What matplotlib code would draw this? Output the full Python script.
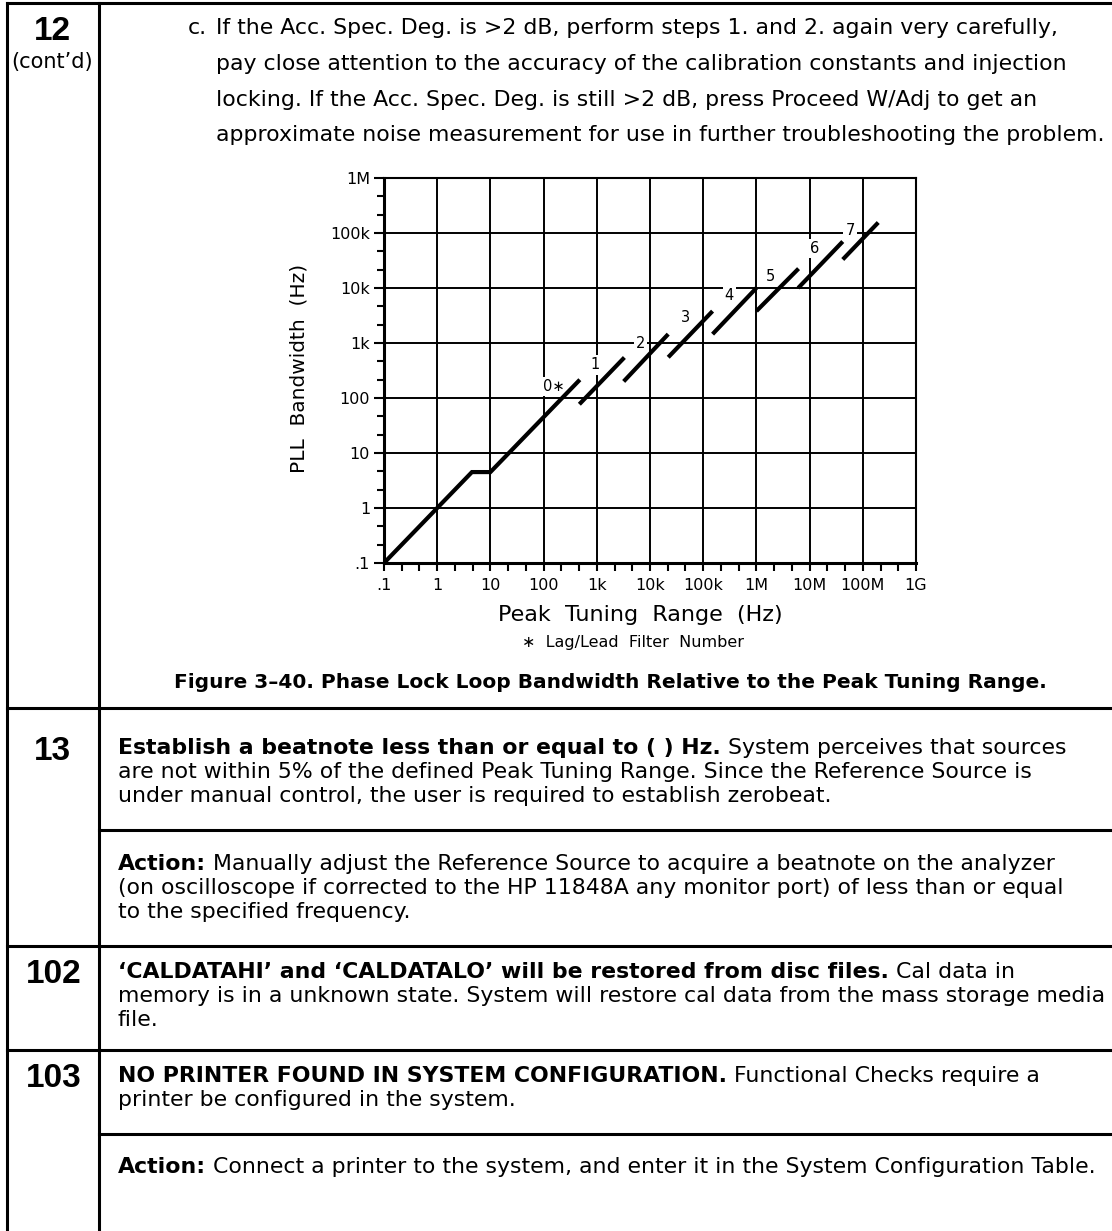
import matplotlib
matplotlib.use("Agg")
import matplotlib.pyplot as plt
from matplotlib.lines import Line2D
from matplotlib.ticker import FixedLocator, FixedFormatter, NullFormatter

W, H, DPI = 1112, 1231, 100

# ---------------- chart data ----------------
filter0_x = [0.1, 4.5, 10, 480]
filter0_y = [0.1, 4.5, 4.5, 215]
filter1_x = [470, 3300]
filter1_y = [77, 545]
filter2_x = [3200, 22000]
filter2_y = [200, 1450]
filter3_x = [22000, 150000]
filter3_y = [550, 3800]
filter4_x = [150000, 1.0e6]
filter4_y = [1450, 10000]
filter5_x = [1.0e6, 6.2e6]
filter5_y = [3800, 22500]
filter6_x = [6.1e6, 4.2e7]
filter6_y = [10000, 70000]
filter7_x = [4.2e7, 1.95e8]
filter7_y = [33000, 155000]

label_text = ["0\u2217", "1", "2", "3", "4", "5", "6", "7"]
label_x = [158, 933, 6600, 46000, 310000, 1.8e6, 1.25e7, 5.8e7]
label_y = [160, 400, 1000, 2850, 7400, 16000, 52000, 112000]

x_ticks = [0.1, 1, 10, 100, 1e3, 1e4, 1e5, 1e6, 1e7, 1e8, 1e9]
x_tick_labels = [".1", "1", "10", "100", "1k", "10k", "100k", "1M", "10M", "100M", "1G"]
y_ticks = [0.1, 1, 10, 100, 1e3, 1e4, 1e5, 1e6]
y_tick_labels = [".1", "1", "10", "100", "1k", "10k", "100k", "1M"]

x_label = "Peak  Tuning  Range  (Hz)"
y_label = "PLL  Bandwidth  (Hz)"
footnote = "\u2217  Lag/Lead  Filter  Number"
caption = "Figure 3\u201340. Phase Lock Loop Bandwidth Relative to the Peak Tuning Range."

# ---------------- page text ----------------
row12_lines = [
    "pay close attention to the accuracy of the calibration constants and injection",
    "locking. If the Acc. Spec. Deg. is still >2 dB, press Proceed W/Adj to get an",
    "approximate noise measurement for use in further troubleshooting the problem.",
]
row12_first = ("c.", "If the Acc. Spec. Deg. is >2 dB, perform steps 1. and 2. again very carefully,")

row13_lines = [
    [("Establish a beatnote less than or equal to ( ) Hz.", True), (" System perceives that sources", False)],
    [("are not within 5% of the defined Peak Tuning Range. Since the Reference Source is", False)],
    [("under manual control, the user is required to establish zerobeat.", False)],
]
row13_action = [
    [("Action:", True), (" Manually adjust the Reference Source to acquire a beatnote on the analyzer", False)],
    [("(on oscilloscope if corrected to the HP 11848A any monitor port) of less than or equal", False)],
    [("to the specified frequency.", False)],
]
row102_lines = [
    [("\u2018CALDATAHI\u2019 and \u2018CALDATALO\u2019 will be restored from disc files.", True), (" Cal data in", False)],
    [("memory is in a unknown state. System will restore cal data from the mass storage media", False)],
    [("file.", False)],
]
row103_lines = [
    [("NO PRINTER FOUND IN SYSTEM CONFIGURATION.", True), (" Functional Checks require a", False)],
    [("printer be configured in the system.", False)],
]
row103_action = [
    [("Action:", True), (" Connect a printer to the system, and enter it in the System Configuration Table.", False)],
]

FAM = "DejaVu Sans"
BODY = 15.8

fig = plt.figure(figsize=(W / DPI, H / DPI), dpi=DPI)
fig.patch.set_facecolor("white")
renderer = fig.canvas.get_renderer()


def put(x, y, s, size=BODY, bold=False, ha="left", va="baseline", family=FAM, **kw):
    return fig.text(x / W, 1 - y / H, s, fontsize=size,
                    fontweight="bold" if bold else "normal",
                    family=family, ha=ha, va=va, **kw)


def rich(x, y, parts, size=BODY):
    cur = x
    for s, b in parts:
        t = put(cur, y, s, size=size, bold=b)
        cur += t.get_window_extent(renderer).width


def hline(y, x0, x1, lw=2.2):
    fig.add_artist(Line2D([x0 / W, x1 / W], [1 - y / H, 1 - y / H],
                          transform=fig.transFigure, color="black", lw=lw))


def vline(x, y0, y1, lw=2.2):
    fig.add_artist(Line2D([x / W, x / W], [1 - y0 / H, 1 - y1 / H],
                          transform=fig.transFigure, color="black", lw=lw))


# ---------------- table frame ----------------
LEFT, DIV, RIGHT = 7, 99, 1116
hline(3, LEFT, RIGHT)
vline(LEFT, 3, H + 5)
vline(DIV, 3, H + 5)
hline(708, LEFT, RIGHT)
hline(830, DIV, RIGHT)
hline(946, LEFT, RIGHT)
hline(1050, LEFT, RIGHT)
hline(1134, DIV, RIGHT)

NUMX = 52
NUMFAM = "Liberation Sans"
put(NUMX, 40, "12", size=24, bold=True, ha="center", family=NUMFAM)
put(NUMX, 68, "(cont\u2019d)", size=15, ha="center")

# row 12 paragraph
put(188, 34, row12_first[0])
put(216, 34, row12_first[1])
for i, ln in enumerate(row12_lines):
    put(216, 70 + i * 35.7, ln)

# ---------------- chart ----------------
AX_L, AX_R, AX_T, AX_B = 384, 916, 178, 563
ax = fig.add_axes([AX_L / W, 1 - AX_B / H, (AX_R - AX_L) / W, (AX_B - AX_T) / H])
ax.set_xscale("log")
ax.set_yscale("log")
ax.set_xlim(x_ticks[0], x_ticks[-1])
ax.set_ylim(y_ticks[0], y_ticks[-1])

x_minor = [d * m for d in x_ticks[:-1] for m in (10 ** (1 / 3), 10 ** (2 / 3))]
y_minor = [d * m for d in y_ticks[:-1] for m in (10 ** (1 / 3), 10 ** (2 / 3))]
ax.xaxis.set_major_locator(FixedLocator(x_ticks))
ax.xaxis.set_major_formatter(FixedFormatter(x_tick_labels))
ax.xaxis.set_minor_locator(FixedLocator(x_minor))
ax.xaxis.set_minor_formatter(NullFormatter())
ax.yaxis.set_major_locator(FixedLocator(y_ticks))
ax.yaxis.set_major_formatter(FixedFormatter(y_tick_labels))
ax.yaxis.set_minor_locator(FixedLocator(y_minor))
ax.yaxis.set_minor_formatter(NullFormatter())

ax.grid(True, which="major", color="black", lw=1.4)
ax.set_axisbelow(True)
ax.tick_params(which="both", direction="out", color="black", width=1.5,
               labelsize=11.5, labelcolor="black")
ax.tick_params(axis="x", which="both", length=5.5, pad=5)
ax.tick_params(axis="y", which="major", length=7, pad=3)
ax.tick_params(axis="y", which="minor", length=5)
for sp in ax.spines.values():
    sp.set_linewidth(1.5)
ax.spines["left"].set_linewidth(2.2)
ax.spines["bottom"].set_linewidth(2.2)

for xs, ys in [(filter0_x, filter0_y), (filter1_x, filter1_y), (filter2_x, filter2_y),
               (filter3_x, filter3_y), (filter4_x, filter4_y), (filter5_x, filter5_y),
               (filter6_x, filter6_y), (filter7_x, filter7_y)]:
    ax.plot(xs, ys, color="black", lw=3.0, solid_capstyle="butt",
            solid_joinstyle="miter", zorder=4)

for s, lx, ly in zip(label_text, label_x, label_y):
    ax.text(lx, ly, s, fontsize=10.5, ha="center", va="center", zorder=3,
            bbox=dict(boxstyle="square,pad=0.15", fc="white", ec="none"))

put(640, 615, x_label, size=16, ha="center", va="center")
put(633, 642, footnote, size=11.5, ha="center", va="center")
put(299, 368, y_label, size=14.5, ha="center", va="center", rotation=90)
put(610, 683, caption, size=14.5, bold=True, ha="center", va="center")

# ---------------- rows 13, 102, 103 ----------------
TX = 118
put(NUMX, 760, "13", size=24, bold=True, ha="center", family=NUMFAM)
for i, parts in enumerate(row13_lines):
    rich(TX, 754 + i * 24, parts)
for i, parts in enumerate(row13_action):
    rich(TX, 870 + i * 24, parts)

put(NUMX + 2, 983, "102", size=24, bold=True, ha="center", family=NUMFAM)
for i, parts in enumerate(row102_lines):
    rich(TX, 978 + i * 24, parts)

put(NUMX + 2, 1087, "103", size=24, bold=True, ha="center", family=NUMFAM)
for i, parts in enumerate(row103_lines):
    rich(TX, 1082 + i * 24, parts)
for i, parts in enumerate(row103_action):
    rich(TX, 1173 + i * 24, parts)

fig.savefig("out.png", dpi=DPI, facecolor="white")
